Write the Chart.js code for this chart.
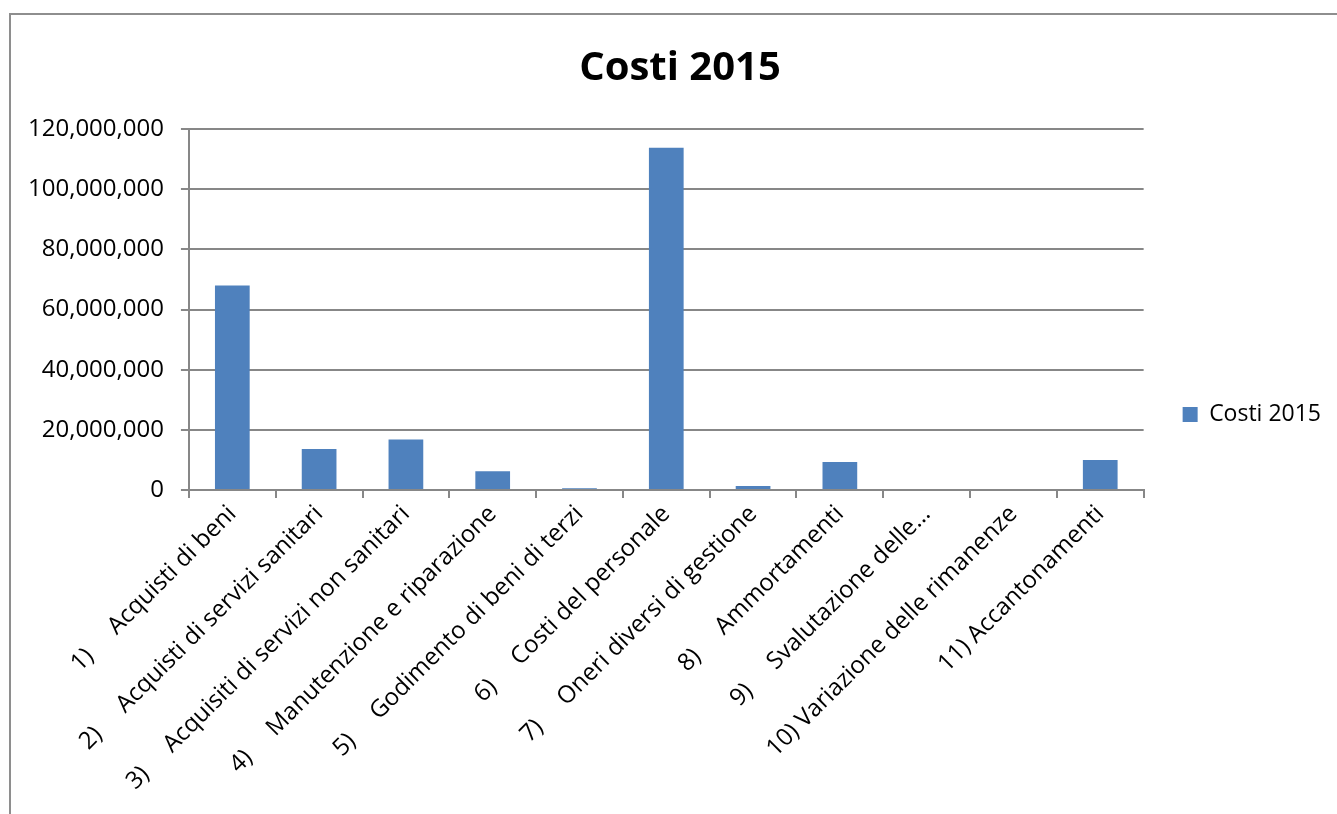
<!DOCTYPE html>
<html lang="it">
<head>
  <meta charset="UTF-8">
  <title>Costi 2015</title>
  <script src="https://cdn.jsdelivr.net/npm/chart.js"></script>
  <style>
    html, body { margin: 0; padding: 0; background: #fff; }
    #frame {
      position: absolute; left: 9px; top: 13px;
      width: 1328px; height: 801px;
      border-left: 2px solid #8e8e8e; border-top: 2px solid #8e8e8e;
    }
    #wrap { position: absolute; left: 0; top: 0; width: 1326px; height: 799px; }
  </style>
</head>
<body>
  <div id="frame"><div id="wrap"><canvas id="costChart"></canvas></div></div>

  <script>
    const sp = '\u00a0\u00a0\u00a0\u00a0\u00a0';
    const categories = [
      '1)' + sp + 'Acquisti di beni',
      '2)' + sp + 'Acquisti di servizi sanitari',
      '3)' + sp + 'Acquisiti di servizi non sanitari',
      '4)' + sp + 'Manutenzione e riparazione',
      '5)' + sp + 'Godimento di beni di terzi',
      '6)' + sp + 'Costi del personale',
      '7)' + sp + 'Oneri diversi di gestione',
      '8)' + sp + 'Ammortamenti',
      '9)' + sp + 'Svalutazione delle…',
      '10)\u00a0Variazione delle rimanenze',
      '11)\u00a0Accantonamenti'
    ];
    const costi2015 = [68000000, 13600000, 16800000, 6260000, 550000, 113800000, 1300000, 9340000, 0, 0, 10000000];
    const yTicks = [0, 20000000, 40000000, 60000000, 80000000, 100000000, 120000000];

    const gridGray = '#878787';
    const font = 'Open Sans';

    const ctx = document.getElementById('costChart').getContext('2d');
    new Chart(ctx, {
      type: 'bar',
      data: {
        labels: categories,
        datasets: [{
          label: 'Costi 2015',
          data: costi2015,
          backgroundColor: '#4f81bd',
          borderWidth: 0,
          categoryPercentage: 1,
          barPercentage: 0.4
        }]
      },
      options: {
        responsive: true,
        maintainAspectRatio: false,
        animation: false,
        layout: { padding: { left: 18, right: 6, top: 0, bottom: 0 } },
        plugins: {
          title: {
            display: true,
            text: 'Costi 2015',
            color: '#000',
            font: { family: font, size: 40, weight: 'bold' },
            padding: { top: 30, bottom: 36 }
          },
          legend: {
            position: 'right',
            labels: {
              color: '#000',
              font: { family: font, size: 23 },
              boxWidth: 15,
              boxHeight: 15,
              padding: 10
            }
          },
          tooltip: { enabled: false }
        },
        scales: {
          x: {
            grid: {
              offset: true,
              drawOnChartArea: false,
              drawTicks: true,
              tickLength: 8,
              color: gridGray,
              lineWidth: 2
            },
            border: { color: gridGray, width: 2 },
            ticks: {
              autoSkip: false,
              maxRotation: 45,
              minRotation: 45,
              color: '#000',
              font: { family: font, size: 24 },
              padding: 2
            },
            afterFit: s => { s.height = 324; }
          },
          y: {
            min: 0,
            max: 120000000,
            afterBuildTicks: axis => { axis.ticks = yTicks.map(v => ({ value: v })); },
            grid: { color: gridGray, lineWidth: 2, tickLength: 8 },
            border: { color: gridGray, width: 2 },
            ticks: {
              color: '#000',
              font: { family: font, size: 24 },
              padding: 17,
              callback: v => v.toLocaleString('en-US')
            },
            afterFit: s => { s.width -= 18; }
          },
          // empty spacer between plot and legend
          gap: {
            type: 'linear',
            position: 'right',
            display: true,
            grid: { display: false },
            border: { display: false },
            ticks: { display: false },
            afterFit: s => { s.width = 29; }
          }
        }
      }
    });
  </script>
</body>
</html>
